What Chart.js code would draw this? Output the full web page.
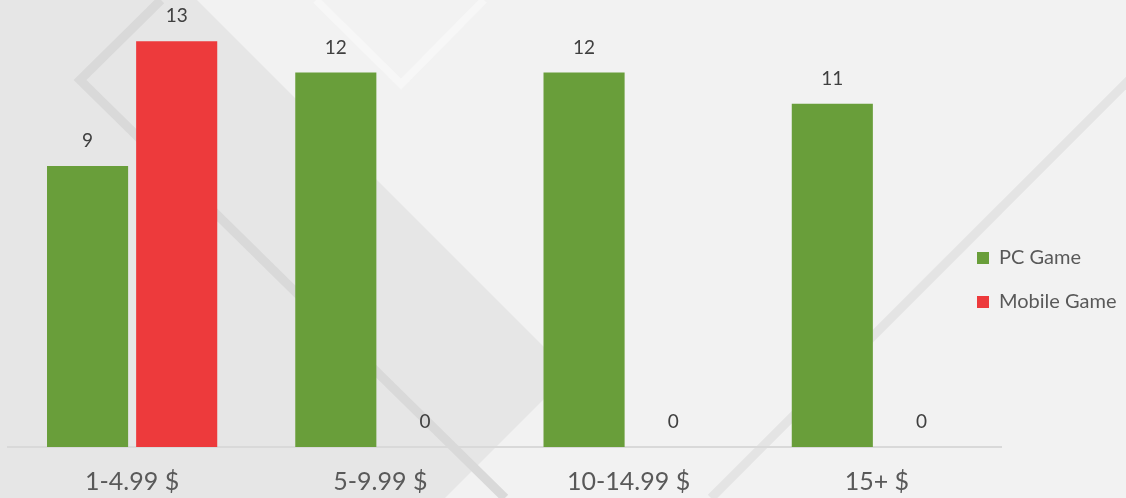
<!DOCTYPE html>
<html>
<head>
<meta charset="utf-8">
<script src="https://cdn.jsdelivr.net/npm/chart.js@4.4.1/dist/chart.umd.min.js"></script>
<style>
    html, body { margin: 0; padding: 0; background: #f2f2f2; }
    #wrap { position: relative; width: 1126px; height: 498px; overflow: hidden; }
    #wrap svg, #wrap canvas { position: absolute; left: 0; top: 0; }
</style>
</head>
<body>
<div id="wrap">
    <!-- decorative slide background -->
    <svg width="1126" height="498">
        <rect width="1126" height="498" fill="#f2f2f2"/>
        <polygon points="0,0 197,0 570,373 445,498 0,498" fill="#e6e6e6"/>
        <polyline points="161,0 80,80 505,498" fill="none" stroke="#d9d9d9" stroke-width="9"/>
        <polyline points="316,0 401,84 484,0" fill="none" stroke="#f7f7f7" stroke-width="8"/>
        <line x1="1140" y1="69" x2="711" y2="498" stroke="#e4e4e4" stroke-width="9"/>
    </svg>
    <canvas id="priceChart" width="1126" height="498"></canvas>
</div>
<script>
// data
const categories = ['1-4.99 $', '5-9.99 $', '10-14.99 $', '15+ $'];
const seriesNames = ['PC Game', 'Mobile Game'];
const pcGame = [9, 12, 12, 11];
const mobileGame = [13, 0, 0, 0];
const yMax = 14;

const FONT = "Lato, 'Open Sans', sans-serif";

// value labels above each bar
const valueLabels = {
    id: 'valueLabels',
    afterDatasetsDraw(chart) {
        const ctx = chart.ctx;
        ctx.save();
        ctx.font = '19px ' + FONT;
        ctx.fillStyle = '#404040';
        ctx.textAlign = 'center';
        ctx.textBaseline = 'middle';
        chart.data.datasets.forEach((ds, i) => {
            chart.getDatasetMeta(i).data.forEach((bar, j) => {
                ctx.fillText(ds.data[j], bar.x, bar.y - 25);
            });
        });
        ctx.restore();
    }
};

// legend sits at the right, overlapping the plot edge like the original
const legendSpot = {
    id: 'legendSpot',
    afterLayout(chart) {
        const lg = chart.legend;
        if (!lg) return;
        lg.left = 953; lg.right = 1126; lg.width = 173;
        lg.top = 224; lg.bottom = 360; lg.height = 136;
    }
};

new Chart(document.getElementById('priceChart'), {
    type: 'bar',
    data: {
        labels: categories,
        datasets: [
            { label: seriesNames[0], data: pcGame, backgroundColor: '#699e3a', borderWidth: 0 },
            { label: seriesNames[1], data: mobileGame, backgroundColor: '#ed3a3c', borderWidth: 0 }
        ]
    },
    options: {
        responsive: false,
        animation: false,
        devicePixelRatio: 1,
        layout: { padding: { left: 8, right: 125, top: 10, bottom: 0 } },
        datasets: { bar: { categoryPercentage: 0.718, barPercentage: 0.91 } },
        plugins: {
            tooltip: { enabled: false },
            legend: {
                position: 'chartArea',
                align: 'start',
                labels: {
                    boxWidth: 12, boxHeight: 12, padding: 24,
                    color: '#595959',
                    font: { family: FONT, size: 20 }
                }
            }
        },
        scales: {
            x: {
                grid: { display: false, drawTicks: false },
                border: { display: true, color: '#d9d9d9', width: 2 },
                ticks: { color: '#595959', padding: 20, font: { family: FONT, size: 25 } },
                afterFit: (scale) => { scale.height = 51; }
            },
            y: { display: false, min: 0, max: yMax }
        }
    },
    plugins: [valueLabels, legendSpot]
});
</script>
</body>
</html>
